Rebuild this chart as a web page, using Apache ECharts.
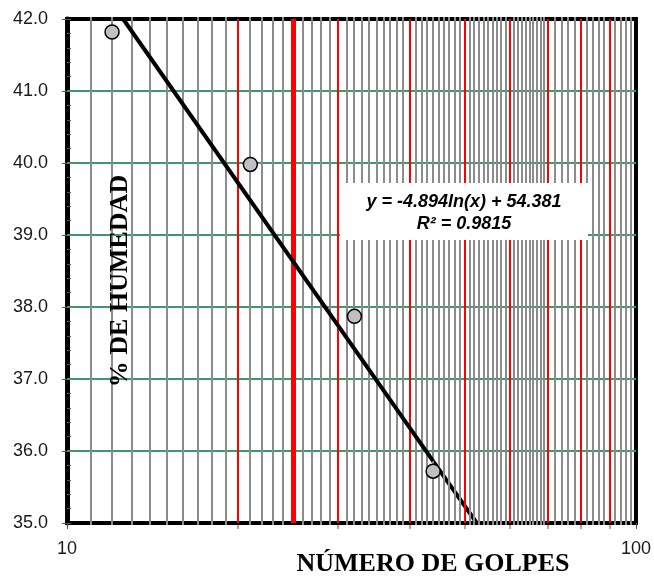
<!DOCTYPE html>
<html>
<head>
<meta charset="utf-8">
<script src="https://cdn.jsdelivr.net/npm/echarts@6/dist/echarts.min.js"></script>
<style>
  html, body { margin: 0; padding: 0; background: #fff; }
  #chart { width: 654px; height: 577px; }
</style>
</head>
<body>
<div id="chart"></div>
<script>
// puntos del ensayo (número de golpes vs % de humedad)
const golpes = [12, 21, 32, 44];
const humedad = [41.82, 39.98, 37.87, 35.72];

// línea de tendencia y = -4.894 ln(x) + 54.381, extremos
const trendSolidX = [12.55, 44.0];
const trendSolidY = [42.0, 35.86];
const trendTailX = [44.0, 52.5];
const trendTailY = [35.86, 35.0];

// rejilla vertical (escala log)
const grayLines = [11, 12, 13, 14, 15, 16, 17, 18, 19,
  21, 22, 23, 24, 26, 27, 28, 29,
  31, 32, 33, 34, 35, 36, 37, 38, 39,
  41, 42, 43, 44, 45, 46, 47, 48, 49,
  51, 52, 53, 54, 55, 56, 57, 58, 59,
  61, 62, 63, 64, 65, 66, 67, 68, 69,
  72, 74, 76, 78, 82, 84, 86, 88, 92, 94, 96, 98];
const redLines = [20, 30, 40, 50, 60, 70, 80, 90];
const thickRedLines = [25];
const xMinorTicks = [20, 30, 40, 50, 60, 70, 80, 90];
// rejilla horizontal
const greenLines = [36, 37, 38, 39, 40, 41];

const yMin = 35, yMax = 42;
const xMin = 10, xMax = 100;

const chart = echarts.init(document.getElementById('chart'));

const vLine = (color, width, ext, tick) => (params, api) => {
  const x = api.value(0);
  const top = api.coord([x, yMax]);
  const bot = api.coord([x, yMin]);
  const px = width % 2 ? Math.round(top[0]) + 0.5 : Math.round(top[0]);
  const children = [{
    type: 'line',
    shape: {x1: px, y1: top[1] - ext, x2: px, y2: bot[1] + ext},
    style: {stroke: color, lineWidth: width}
  }];
  if (tick && xMinorTicks.indexOf(x) >= 0) {
    children.push({
      type: 'line',
      shape: {x1: px, y1: bot[1] + 2, x2: px, y2: bot[1] + 6},
      style: {stroke: '#555', lineWidth: 1}
    });
  }
  return {type: 'group', children};
};

const hLine = (params, api) => {
  const y = api.value(1);
  const a = api.coord([xMin, y]);
  const b = api.coord([xMax, y]);
  const py = Math.round(a[1]);
  return {
    type: 'line',
    shape: {x1: a[0], y1: py, x2: b[0], y2: py},
    style: {stroke: '#3a9a68', lineWidth: 2}
  };
};

chart.setOption({
  backgroundColor: '#fff',
  animation: false,
  grid: {
    left: 67,
    right: 16,
    top: 19,
    bottom: 54,
    show: true,
    borderColor: '#000',
    borderWidth: 4,
    backgroundColor: '#fff'
  },
  xAxis: {
    type: 'log',
    logBase: 10,
    min: xMin,
    max: xMax,
    axisLine: {show: true, lineStyle: {color: '#000', width: 4}},
    axisTick: {show: true, length: 6, lineStyle: {color: '#555'}},
    axisLabel: {
      color: '#1a1a1a',
      fontSize: 18,
      fontFamily: 'Liberation Sans, Arial',
      margin: 17
    },
    splitLine: {show: false},
    minorTick: {show: false}
  },
  yAxis: [{
    type: 'value',
    min: yMin,
    max: yMax,
    interval: 1,
    axisLine: {show: true, lineStyle: {color: '#000', width: 5}},
    axisTick: {show: true, length: 5, lineStyle: {color: '#555'}},
    axisLabel: {
      color: '#1a1a1a',
      fontSize: 18,
      fontFamily: 'Liberation Sans, Arial',
      margin: 19,
      formatter: v => v.toFixed(1)
    },
    splitLine: {show: false}
  }, {
    type: 'value',
    position: 'left',
    min: yMin,
    max: yMax,
    interval: 0.2,
    axisLine: {show: false},
    axisTick: {show: true, inside: true, length: 4, lineStyle: {color: '#555'}},
    axisLabel: {show: false},
    splitLine: {show: false}
  }],
  series: [
    {
      type: 'custom',
      z: 1,
      silent: true,
      renderItem: hLine,
      data: greenLines.map(v => [xMin, v])
    },
    {
      type: 'line',
      z: 1,
      data: trendTailX.map((x, i) => [x, trendTailY[i]]),
      symbol: 'none',
      lineStyle: {color: '#000', width: 4}
    },
    {
      type: 'custom',
      z: 2,
      silent: true,
      clip: false,
      renderItem: vLine('#8c8c8c', 2, 2, false),
      data: grayLines.map(v => [v, yMin])
    },
    {
      type: 'custom',
      z: 2,
      silent: true,
      clip: false,
      renderItem: vLine('#ff0000', 2, 0, true),
      data: redLines.map(v => [v, yMin])
    },
    {
      type: 'custom',
      z: 2,
      silent: true,
      clip: false,
      renderItem: vLine('#ff0000', 5, 0, false),
      data: thickRedLines.map(v => [v, yMin])
    },
    {
      type: 'line',
      z: 3,
      data: trendSolidX.map((x, i) => [x, trendSolidY[i]]),
      symbol: 'none',
      lineStyle: {color: '#000', width: 4}
    },
    {
      type: 'scatter',
      z: 4,
      data: golpes.map((g, i) => [g, humedad[i]]),
      symbol: 'circle',
      symbolSize: 14,
      itemStyle: {color: '#c0c0c0', borderColor: '#000', borderWidth: 1.5, opacity: 1}
    }
  ],
  graphic: [
    {
      type: 'rect',
      z: 100,
      shape: {x: 340, y: 183, width: 248, height: 57},
      style: {fill: '#fff'}
    },
    {
      type: 'text',
      z: 101,
      x: 464,
      y: 202,
      style: {
        text: 'y = -4.894ln(x) + 54.381',
        font: 'italic bold 18px "Liberation Sans", Arial',
        fill: '#000',
        textAlign: 'center',
        textVerticalAlign: 'middle'
      }
    },
    {
      type: 'text',
      z: 101,
      x: 464,
      y: 224,
      style: {
        text: 'R² = 0.9815',
        font: 'italic bold 18px "Liberation Sans", Arial',
        fill: '#000',
        textAlign: 'center',
        textVerticalAlign: 'middle'
      }
    },
    {
      type: 'text',
      z: 101,
      x: 120,
      y: 281,
      rotation: Math.PI / 2,
      style: {
        text: '% DE HUMEDAD',
        font: 'bold 26px "Liberation Serif", "Times New Roman"',
        fill: '#000',
        textAlign: 'center',
        textVerticalAlign: 'middle'
      }
    },
    {
      type: 'text',
      z: 101,
      x: 433,
      y: 564,
      style: {
        text: 'NÚMERO DE GOLPES',
        font: 'bold 26px "Liberation Serif", "Times New Roman"',
        fill: '#000',
        textAlign: 'center',
        textVerticalAlign: 'middle'
      }
    }
  ]
});
</script>
</body>
</html>
